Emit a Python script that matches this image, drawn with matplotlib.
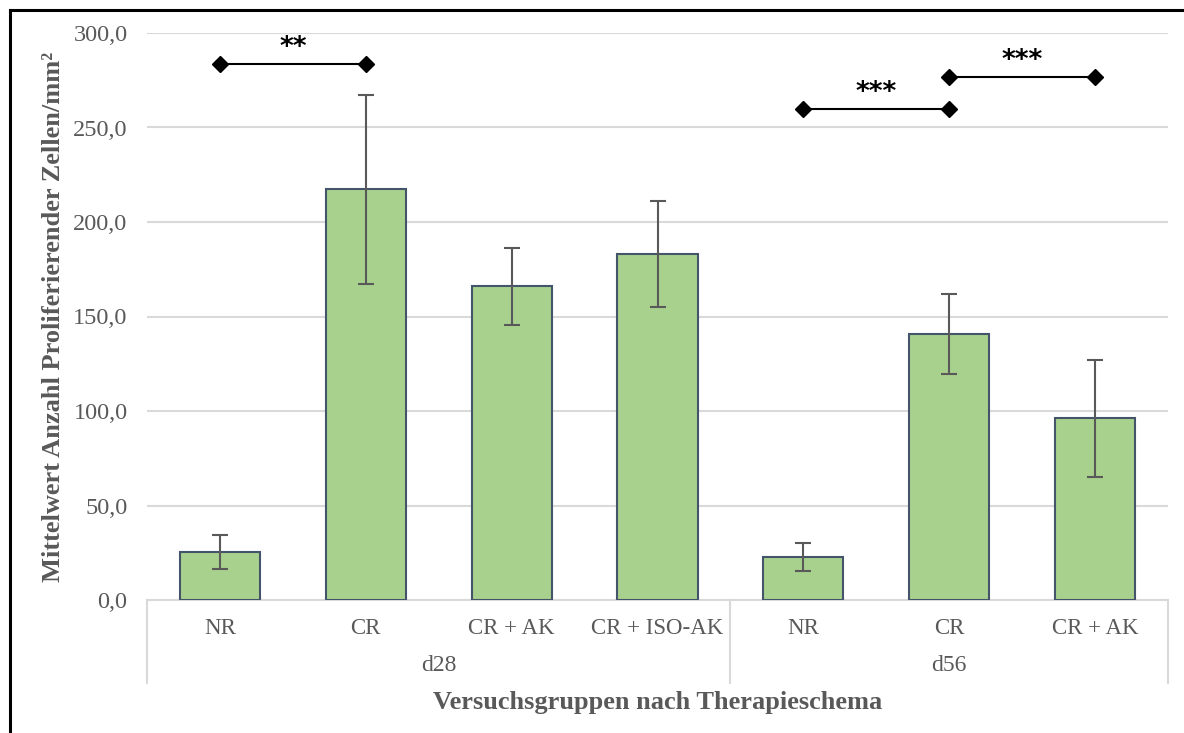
import matplotlib.pyplot as plt
import matplotlib.transforms as mtransforms
from matplotlib.lines import Line2D
import numpy as np

# Daten
gruppen = ["NR", "CR", "CR + AK", "CR + ISO-AK", "NR", "CR", "CR + AK"]
zeitpunkt = ["d28", "d56"]
n_pro_zeitpunkt = [4, 3]
mittelwert = [25.3, 217.3, 166.0, 183.0, 22.6, 140.8, 96.2]
fehler = [9.0, 50.0, 20.5, 28.0, 7.3, 21.2, 31.0]

# Signifikanzen: (von, bis, Höhe, Sterne)
sig_von = [0, 4, 5]
sig_bis = [1, 5, 6]
sig_hoehe = [283.5, 259.8, 276.8]
sig_text = ["**", "***", "***"]

grau = "#595959"
plt.rcParams["font.family"] = ["Liberation Serif", "DejaVu Serif"]

fig = plt.figure(figsize=(11.84, 7.33), dpi=100)
ax = fig.add_axes([147 / 1184, 1 - 600 / 733, (1168 - 147) / 1184, (600 - 33) / 733])

x = np.arange(len(gruppen))
ax.bar(x, mittelwert, width=0.55, color="#A9D18E", edgecolor="#44546A", linewidth=1.5, zorder=3)
ax.errorbar(x, mittelwert, yerr=fehler, fmt="none", ecolor=grau, elinewidth=1.5,
            capsize=6, capthick=1.5, zorder=4)

ax.set_xlim(-0.5, len(gruppen) - 0.5)
ax.set_ylim(0, 300)
ax.set_yticks(np.arange(0, 301, 50))
ax.set_yticklabels([f"{v:.1f}".replace(".", ",") for v in np.arange(0, 301, 50)])
ax.grid(axis="y", color="#D9D9D9", linewidth=1.5, zorder=0)
ax.set_axisbelow(True)
for s in ["top", "right", "left"]:
    ax.spines[s].set_visible(False)
ax.spines["bottom"].set_color("#D9D9D9")
ax.spines["bottom"].set_linewidth(1.5)

ax.set_xticks(x)
ax.set_xticklabels(gruppen, fontsize=16.5)
ax.tick_params(axis="both", length=0, labelcolor=grau)
ax.tick_params(axis="y", labelsize=17.5, pad=14)
ax.tick_params(axis="x", pad=13)

# Gruppenbeschriftung und Trennlinien
trans = mtransforms.blended_transform_factory(ax.transData, ax.transAxes)
start = -0.5
grenzen = [start]
for name, n in zip(zeitpunkt, n_pro_zeitpunkt):
    mitte = start + n / 2
    ax.text(mitte, -0.115, name, transform=trans, ha="center", va="center",
            fontsize=17, color=grau)
    start += n
    grenzen.append(start)
for g in grenzen:
    ax.add_line(Line2D([g, g], [0, -83 / 567], transform=trans, color="#D9D9D9",
                       linewidth=1.5, clip_on=False))

# Signifikanzbalken
for a, b, h, t in zip(sig_von, sig_bis, sig_hoehe, sig_text):
    ax.plot([a, b], [h, h], color="black", linewidth=1.5, marker="D", markersize=8, zorder=5)
    ax.text((a + b) / 2, h + 1.5, t, ha="center", va="bottom", fontsize=19,
            fontweight="bold", color="black", family="DejaVu Sans")

ax.set_ylabel("Mittelwert Anzahl Proliferierender Zellen/mm²", fontsize=19,
              fontweight="bold", color=grau, labelpad=6)
fig.text((147 + 1168) / 2 / 1184, 1 - 703 / 733, "Versuchsgruppen nach Therapieschema",
         ha="center", va="center", fontsize=19, fontweight="bold", color=grau)

# Rahmen links und oben
fig.add_artist(Line2D([10 / 1184, 10 / 1184], [0, 1 - 10 / 733], color="black", linewidth=2.2))
fig.add_artist(Line2D([10 / 1184, 1], [1 - 10 / 733, 1 - 10 / 733], color="black", linewidth=2.2))

fig.savefig("out.png", dpi=100)
